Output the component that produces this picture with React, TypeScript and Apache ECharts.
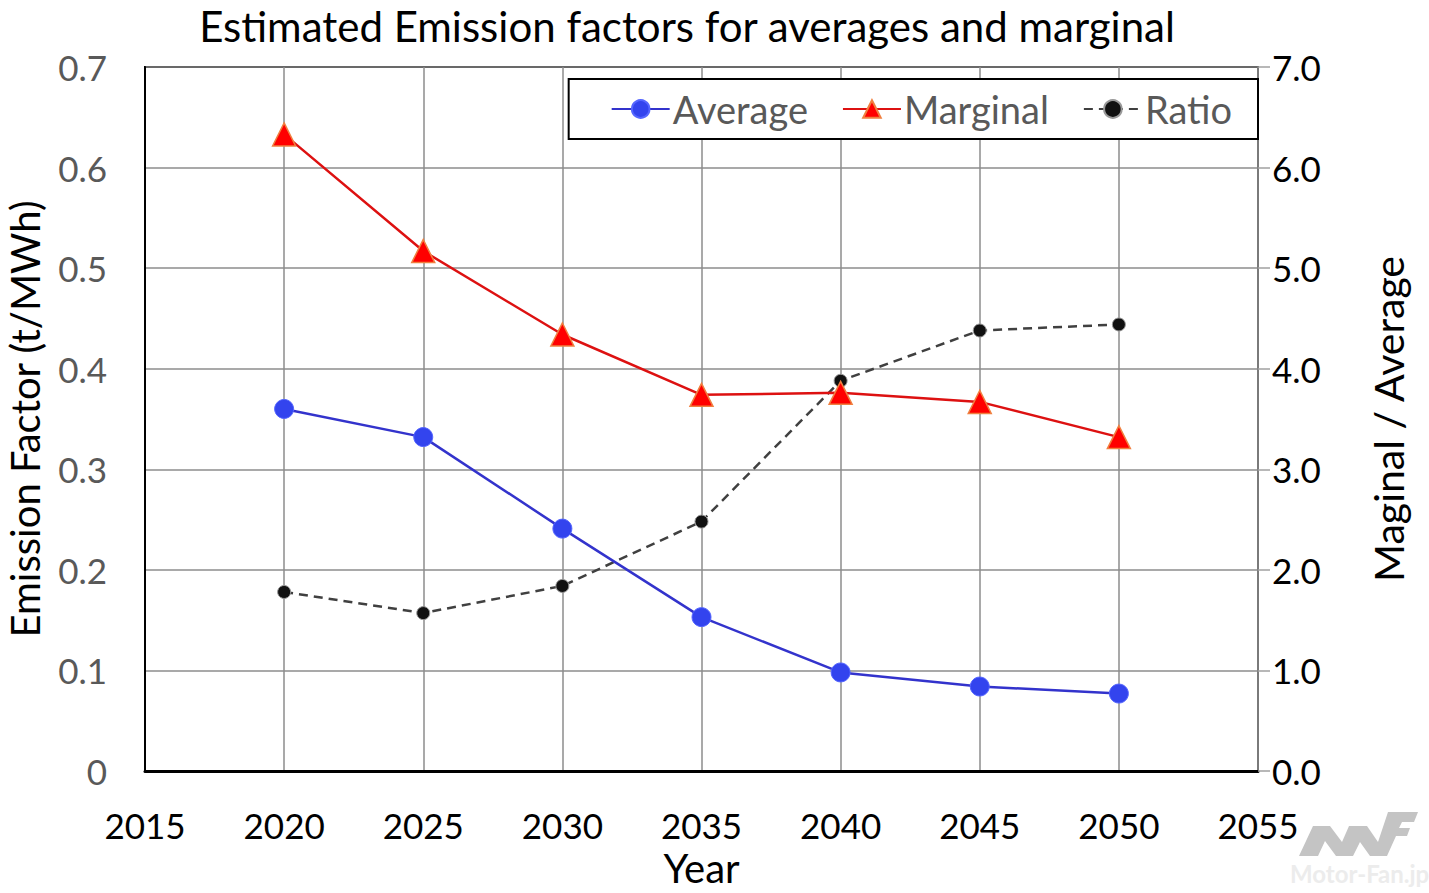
import React, { useEffect, useRef } from "react";
import * as echarts from "echarts";

const years = [2020, 2025, 2030, 2035, 2040, 2045, 2050];
const averageValues = [0.36, 0.332, 0.241, 0.153, 0.098, 0.084, 0.077];
const marginalValues = [0.633, 0.517, 0.434, 0.374, 0.376, 0.367, 0.332];
const ratioValues = [1.78, 1.57, 1.84, 2.48, 3.88, 4.38, 4.44];

const FONT = "Lato, 'Open Sans', sans-serif";

const logoPoints = [
  [1299, 856], [1313, 826], [1330, 826], [1342, 842], [1349, 826], [1367, 826],
  [1378, 842], [1388, 812], [1418, 812], [1414, 822], [1402, 822], [1399, 828],
  [1410, 828], [1407, 836], [1396, 836], [1387, 856], [1370, 856], [1360, 842],
  [1353, 856], [1336, 856], [1325, 841], [1318, 856],
];

export default function App() {
  const ref = useRef<HTMLDivElement>(null);
  useEffect(() => {
    if (!ref.current) return;
    const chart = echarts.init(ref.current, null, { renderer: "svg" });
    const pair = (vals: number[]) => years.map((y, i) => [y, vals[i]]);
    chart.setOption({
      animation: false,
      backgroundColor: "#ffffff",
      textStyle: { fontFamily: FONT },
      title: {
        text: "Estimated Emission factors for averages and marginal",
        left: 682,
        textAlign: "center",
        top: 0,
        textStyle: { fontFamily: FONT, fontSize: 42, fontWeight: "normal", color: "#000" },
      },
      legend: {
        right: 171,
        top: 79,
        orient: "horizontal",
        backgroundColor: "#fff",
        borderColor: "#000",
        borderWidth: 2,
        borderRadius: 0,
        padding: [11, 26, 11, 42],
        itemGap: 34,
        itemWidth: 58,
        itemHeight: 22,
        textStyle: { fontFamily: FONT, fontSize: 38, color: "#595959", padding: [0, 0, 0, -2] },
        data: ["Average", "Marginal", "Ratio"],
      },
      grid: {
        left: 145,
        right: 171,
        top: 67,
        bottom: 122,
        outerBoundsMode: "none",
        containLabel: false,
        show: true,
        borderColor: "#000",
        borderWidth: 2,
      },
      xAxis: {
        type: "value",
        min: 2015,
        max: 2055,
        interval: 5,
        name: "Year",
        nameLocation: "middle",
        nameGap: 77,
        nameTextStyle: { fontFamily: FONT, fontSize: 40, color: "#000" },
        axisLine: { show: true, lineStyle: { color: "#000", width: 3 } },
        axisTick: { show: false },
        axisLabel: {
          fontFamily: FONT,
          fontSize: 35,
          color: "#000",
          margin: 36,
          formatter: (v: number) => String(v),
        },
        splitLine: { show: true, lineStyle: { color: "#8c8c8c", width: 1.5 } },
      },
      yAxis: [
        {
          type: "value",
          min: 0,
          max: 0.7,
          interval: 0.1,
          name: "Emission Factor (t/MWh)",
          nameLocation: "middle",
          nameGap: 100,
          nameRotate: 90,
          nameTextStyle: { fontFamily: FONT, fontSize: 40, color: "#000" },
          axisLine: { show: true, lineStyle: { color: "#000", width: 2 } },
          axisTick: { show: false },
          axisLabel: {
            fontFamily: FONT,
            fontSize: 35,
            color: "#595959",
            margin: 38,
            formatter: (v: number) => (v === 0 ? "0" : v.toFixed(1)),
          },
          splitLine: { show: true, lineStyle: { color: "#8c8c8c", width: 1.5 } },
        },
        {
          type: "value",
          min: 0,
          max: 7,
          interval: 1,
          position: "right",
          name: "Maginal / Average",
          nameLocation: "middle",
          nameGap: 110,
          nameRotate: 90,
          nameTextStyle: { fontFamily: FONT, fontSize: 41, color: "#000" },
          axisLine: { show: true, lineStyle: { color: "#808080", width: 1.5 } },
          axisTick: { show: true, inside: false, length: 12, lineStyle: { color: "#a0a0a0", width: 1.5 } },
          axisLabel: {
            fontFamily: FONT,
            fontSize: 35,
            color: "#000",
            margin: 14,
            formatter: (v: number) => v.toFixed(1),
          },
          splitLine: { show: false },
        },
      ],
      series: [
        {
          name: "Average",
          type: "line",
          yAxisIndex: 0,
          data: pair(averageValues),
          symbol: "circle",
          symbolSize: 19,
          lineStyle: { color: "#3333cc", width: 2.5 },
          itemStyle: { color: "#3344ee", borderColor: "#5566ff", borderWidth: 1 },
          z: 3,
        },
        {
          name: "Marginal",
          type: "line",
          yAxisIndex: 0,
          data: pair(marginalValues),
          symbol: "triangle",
          symbolSize: 23,
          lineStyle: { color: "#dd1111", width: 2.5 },
          itemStyle: { color: "#ff0000", borderColor: "#f08040", borderWidth: 1.5 },
          z: 3,
        },
        {
          name: "Ratio",
          type: "line",
          yAxisIndex: 1,
          data: pair(ratioValues),
          symbol: "circle",
          symbolSize: 13,
          lineStyle: { color: "#404040", width: 2.5, type: [9, 6] },
          itemStyle: { color: "#111", borderColor: "#999", borderWidth: 1 },
          z: 2,
        },
      ],
      graphic: [
        {
          type: "polygon",
          shape: { points: logoPoints },
          style: { fill: "#c4c4c4" },
          z: 10,
        },
        {
          type: "text",
          x: 1290,
          y: 873,
          style: {
            text: "Motor-Fan.jp",
            fontFamily: FONT,
            fontSize: 24,
            fontWeight: "bold",
            fill: "#ececec",
            verticalAlign: "middle",
          },
        },
      ],
    });
    return () => chart.dispose();
  }, []);
  return (
    <div
      ref={ref}
      style={{ position: "absolute", left: 0, top: 0, width: 1429, height: 893 }}
    />
  );
}
